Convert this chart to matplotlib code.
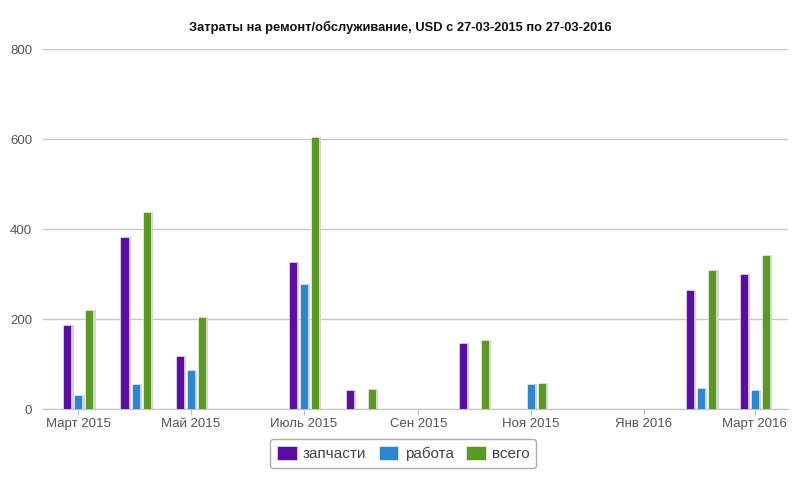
import matplotlib
matplotlib.use("Agg")
import matplotlib.pyplot as plt
import matplotlib.dates as mdates
from datetime import date

plt.rcParams['font.family'] = ['Liberation Sans', 'DejaVu Sans']

# month starts (Mar 2015 .. Mar 2016)
months = [date(2015, 3, 1), date(2015, 4, 1), date(2015, 5, 1), date(2015, 6, 1),
          date(2015, 7, 1), date(2015, 8, 1), date(2015, 9, 1), date(2015, 10, 1),
          date(2015, 11, 1), date(2015, 12, 1), date(2016, 1, 1), date(2016, 2, 1),
          date(2016, 3, 1)]

parts = [188, 383, 118, 0, 328, 42, 0, 147, 0, 0, 0, 264, 301]
labour = [31, 56, 88, 0, 278, 0, 0, 0, 56, 0, 0, 47, 42]
total = [220, 439, 204, 0, 604, 45, 0, 153, 58, 0, 0, 309, 342]

series_names = ['запчасти', 'работа', 'всего']
colors = ['#5a0ea3', '#2a87d0', '#5a9a23']

tick_dates = [date(2015, 3, 1), date(2015, 5, 1), date(2015, 7, 1), date(2015, 9, 1),
              date(2015, 11, 1), date(2016, 1, 1), date(2016, 3, 1)]
tick_labels = ['Март 2015', 'Май 2015', 'Июль 2015', 'Сен 2015', 'Ноя 2015', 'Янв 2016', 'Март 2016']

fig = plt.figure(figsize=(8, 4.86), dpi=100)
ax = fig.add_axes([0.054, 0.158, 0.931, 0.741])

x = mdates.date2num(months)
width = 4.4
offsets = [-6.0, 0.0, 6.0]

handles = []
for vals, off, col, name in zip([parts, labour, total], offsets, colors, series_names):
    # soft shadow to the right of each bar
    ax.bar(x + off + 1.2, vals, width=width, color='#d4d4d4', zorder=2, linewidth=0)
    b = ax.bar(x + off, vals, width=width, color=col, edgecolor='white',
               linewidth=0.4, zorder=3, label=name)
    handles.append(b)

ax.set_ylim(0, 800)
ax.set_yticks([0, 200, 400, 600, 800])
ax.set_xlim(mdates.date2num(date(2015, 2, 10)), mdates.date2num(date(2016, 3, 19)))
ax.set_xticks(mdates.date2num(tick_dates))
ax.set_xticklabels(tick_labels)

ax.yaxis.grid(True, color='#c8c8c8', linewidth=1)
ax.set_axisbelow(True)
for s in ['top', 'right', 'left']:
    ax.spines[s].set_visible(False)
ax.spines['bottom'].set_color('#c0c0c0')
ax.tick_params(axis='y', length=0, labelsize=9.5, colors='#555555', pad=8)
ax.tick_params(axis='x', length=4, color='#c0c0c0', labelsize=9.5, labelcolor='#555555', pad=2)

fig.text(0.5, 0.943, 'Затраты на ремонт/обслуживание, USD с 27-03-2015 по 27-03-2016',
         ha='center', va='center', fontsize=9.3, fontweight='bold', color='#111111')

leg = fig.legend(handles=handles, loc='center', bbox_to_anchor=(0.504, 0.067), ncol=3,
                 frameon=True, fontsize=11, handlelength=1.3, handleheight=1.1,
                 handletextpad=0.4, columnspacing=0.8, borderpad=0.45, fancybox=True)
leg.get_frame().set_edgecolor('#999999')
leg.get_frame().set_linewidth(1)
for t in leg.get_texts():
    t.set_color('#444444')

fig.savefig('out.png', dpi=100)
